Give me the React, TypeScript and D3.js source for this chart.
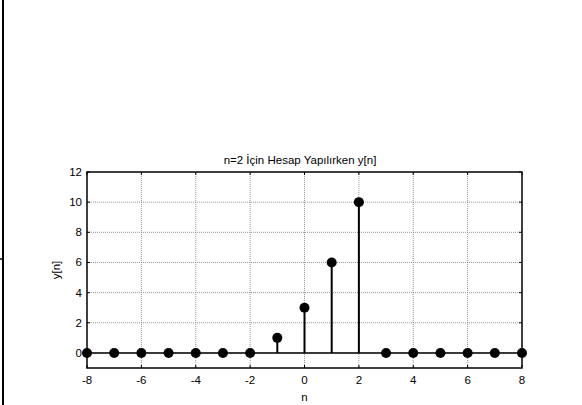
import { range, scaleLinear } from 'd3';

const nValues = range(-8, 9);
const yValues = [0, 0, 0, 0, 0, 0, 0, 1, 3, 6, 10, 0, 0, 0, 0, 0, 0];
const xTicks = [-8, -6, -4, -2, 0, 2, 4, 6, 8];
const yTicks = [0, 2, 4, 6, 8, 10, 12];

const WIDTH = 582;
const HEIGHT = 405;
const PLOT = { left: 87, right: 522, top: 172, bottom: 368 };
const FONT = 'Arial, "Liberation Sans", sans-serif';
const FONT_SIZE = 11.5;

export default function App() {
  const x = scaleLinear().domain([-8, 8]).range([PLOT.left, PLOT.right]);
  const y = scaleLinear().domain([-1, 12]).range([PLOT.bottom, PLOT.top]);
  const tick = 3;

  return (
    <svg
      width={WIDTH}
      height={HEIGHT}
      style={{ position: 'absolute', left: 0, top: 0, background: '#fff' }}
    >
      {/* stray frame edge on the left */}
      <line x1={3} x2={3} y1={0} y2={HEIGHT} stroke="#000" strokeWidth={2} />
      <line x1={0} x2={3} y1={259} y2={259} stroke="#000" strokeWidth={1.5} />

      {/* grid */}
      <g stroke="#888" strokeWidth={0.9} strokeDasharray="1 1">
        {xTicks.slice(1, -1).map((t) => (
          <line key={`gx${t}`} x1={x(t)} x2={x(t)} y1={PLOT.top} y2={PLOT.bottom} />
        ))}
        {yTicks.slice(0, -1).map((t) => (
          <line key={`gy${t}`} x1={PLOT.left} x2={PLOT.right} y1={y(t)} y2={y(t)} />
        ))}
      </g>

      {/* tick marks, pointing inward */}
      <g stroke="#000" strokeWidth={1}>
        {xTicks.map((t) => (
          <g key={`tx${t}`}>
            <line x1={x(t)} x2={x(t)} y1={PLOT.bottom} y2={PLOT.bottom - tick} />
            <line x1={x(t)} x2={x(t)} y1={PLOT.top} y2={PLOT.top + tick} />
          </g>
        ))}
        {yTicks.map((t) => (
          <g key={`ty${t}`}>
            <line x1={PLOT.left} x2={PLOT.left + tick} y1={y(t)} y2={y(t)} />
            <line x1={PLOT.right} x2={PLOT.right - tick} y1={y(t)} y2={y(t)} />
          </g>
        ))}
      </g>

      {/* stem baseline */}
      <line x1={x(-8)} x2={x(8)} y1={y(0)} y2={y(0)} stroke="#000" strokeWidth={1.5} />

      {/* stems */}
      {nValues.map((n, i) => (
        <g key={`s${n}`}>
          <line x1={x(n)} x2={x(n)} y1={y(0)} y2={y(yValues[i])} stroke="#000" strokeWidth={2} />
          <circle cx={x(n)} cy={y(yValues[i])} r={5} fill="#000" />
        </g>
      ))}

      {/* axes box */}
      <rect
        x={PLOT.left}
        y={PLOT.top}
        width={PLOT.right - PLOT.left}
        height={PLOT.bottom - PLOT.top}
        fill="none"
        stroke="#000"
        strokeWidth={1.5}
      />

      {/* tick labels */}
      <g fontFamily={FONT} fontSize={FONT_SIZE} fill="#000">
        {xTicks.map((t) => (
          <text key={`lx${t}`} x={x(t)} y={PLOT.bottom + 16} textAnchor="middle">
            {t}
          </text>
        ))}
        {yTicks.map((t) => (
          <text key={`ly${t}`} x={PLOT.left - 5} y={y(t) + 4} textAnchor="end">
            {t}
          </text>
        ))}
      </g>

      <text x={300} y={164} textAnchor="middle" fontFamily={FONT} fontSize={FONT_SIZE}>
        n=2 İçin Hesap Yapılırken y[n]
      </text>
      <text
        x={(PLOT.left + PLOT.right) / 2}
        y={401}
        textAnchor="middle"
        fontFamily={FONT}
        fontSize={FONT_SIZE}
      >
        n
      </text>
      <text
        transform={`translate(60 ${(PLOT.top + PLOT.bottom) / 2}) rotate(-90)`}
        textAnchor="middle"
        fontFamily={FONT}
        fontSize={FONT_SIZE}
      >
        y[n]
      </text>
    </svg>
  );
}
